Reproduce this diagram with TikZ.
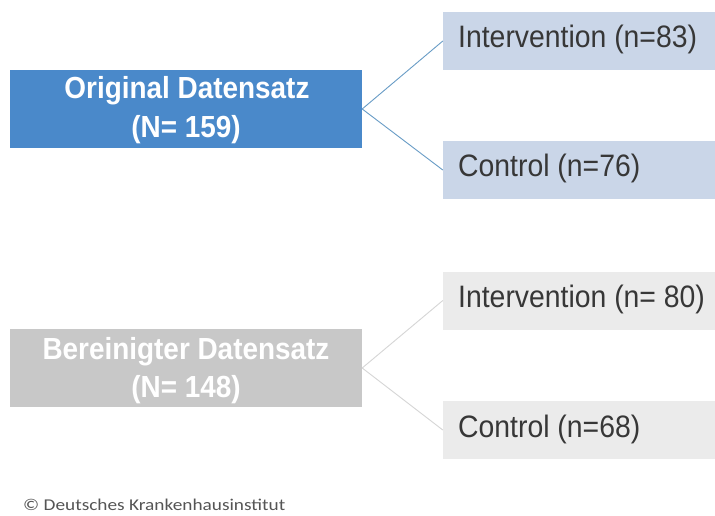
\documentclass[tikz,border=0pt]{standalone}
\usepackage{fontspec}
\setmainfont{Liberation Sans}
\newfontfamily\subfont[FakeStretch=0.915]{Liberation Sans}
\newfontfamily\footfont[FakeStretch=1.17]{Carlito}
\definecolor{mainblue}{RGB}{74,137,202}
\definecolor{lightblue}{RGB}{202,214,232}
\definecolor{blueline}{RGB}{104,156,198}
\definecolor{maingray}{RGB}{200,200,200}
\definecolor{lightgray2}{RGB}{235,235,235}
\definecolor{grayline}{RGB}{214,214,214}
\definecolor{darktext}{RGB}{55,55,55}
\definecolor{foottext}{RGB}{85,85,85}
\tikzset{
  mainbox/.style={minimum width=352pt, minimum height=78pt, inner sep=0pt},
  maintext/.style={anchor=base, inner sep=0pt, text=white,
    font=\subfont\fontsize{30.5}{34}\selectfont\bfseries},
  subbox/.style={minimum width=272pt, minimum height=58pt, inner sep=0pt},
  subtext/.style={anchor=base west, inner sep=0pt, text=darktext,
    font=\subfont\fontsize{31}{36}\selectfont},
  link/.style={line width=0.9pt}
}
\begin{document}
\begin{tikzpicture}[x=1pt,y=1pt]
\useasboundingbox[fill=white] (0,0) rectangle (715,-516);
% top group
\node[mainbox, fill=mainblue] (orig) at (186,-109) {};
\node[maintext] (origA) at (187,-99) {Original Datensatz};
\node[maintext] (origB) at (186,-138) {(N= 159)};
\node[subbox, fill=lightblue] (int1) at (579,-41) {};
\node[subtext] (int1t) at (458,-48) {Intervention (n=83)};
\node[subbox, fill=lightblue] (ctl1) at (579,-170) {};
\node[subtext] (ctl1t) at (458,-177) {Control (n=76)};
\draw[link, blueline] (orig.east) -- (int1.west);
\draw[link, blueline] (orig.east) -- (ctl1.west);
% bottom group
\node[mainbox, fill=maingray] (clean) at (186,-368) {};
\node[maintext] (cleanA) at (186,-359) {Bereinigter Datensatz};
\node[maintext] (cleanB) at (186,-397) {(N= 148)};
\node[subbox, fill=lightgray2] (int2) at (579,-300.5) {};
\node[subtext] (int2t) at (458,-307) {Intervention (n= 80)};
\node[subbox, fill=lightgray2] (ctl2) at (579,-430) {};
\node[subtext] (ctl2t) at (458,-437) {Control (n=68)};
\draw[link, grayline] (clean.east) -- (int2.west);
\draw[link, grayline] (clean.east) -- (ctl2.west);
% footer
\node[anchor=base west, inner sep=0pt, text=foottext, font=\footfont\fontsize{16.5}{18}\selectfont] (foot) at (23,-510) {© Deutsches Krankenhausinstitut};
\end{tikzpicture}
\end{document}
